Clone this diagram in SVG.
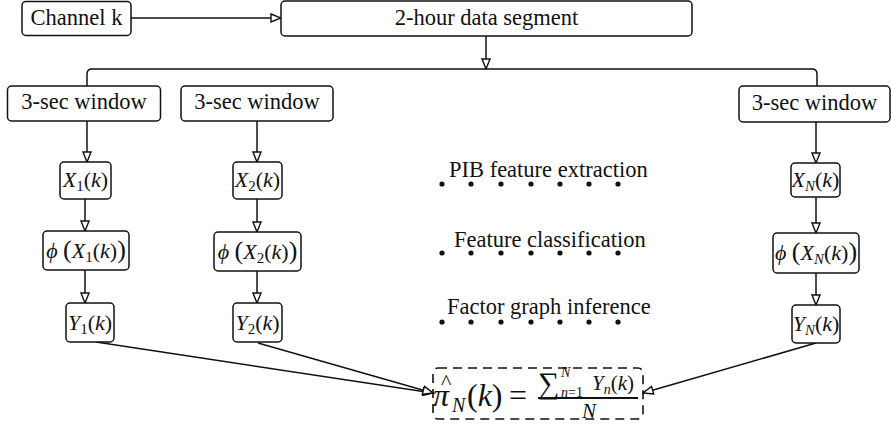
<svg xmlns="http://www.w3.org/2000/svg" width="891" height="426" viewBox="0 0 891 426">
<style>
.box{fill:#fff;stroke:#111;stroke-width:1.5}
.dash{fill:none;stroke:#111;stroke-width:1.6;stroke-dasharray:9,6}
.t{font-family:"Liberation Serif","Times New Roman",serif;font-size:22.5px;fill:#111}
.m{font-family:"Liberation Serif","Times New Roman",serif;fill:#111}
.i{font-style:italic}
.c{fill:none;stroke:#111;stroke-width:1.5}
.dot{fill:#111}
</style>
<defs>
<marker id="ah" markerUnits="userSpaceOnUse" markerWidth="12" markerHeight="10" refX="11" refY="5" orient="auto">
<path d="M1,1 L11,5 L1,9 Z" fill="#fff" stroke="#111" stroke-width="1.4"/>
</marker>
</defs>

<g id="connectors">
<path class="c" d="M131,18 H281" marker-end="url(#ah)"/>
<path class="c" d="M486,36 V69" marker-end="url(#ah)"/>
<path class="c" d="M87,86 V74 Q87,69 92,69 H812 Q817,69 817,74 V86"/>
<path class="c" d="M87,121 V162" marker-end="url(#ah)"/>
<path class="c" d="M85,199 V231" marker-end="url(#ah)"/>
<path class="c" d="M85,270 V303" marker-end="url(#ah)"/>
<path class="c" d="M257,121 V162" marker-end="url(#ah)"/>
<path class="c" d="M257,199 V232" marker-end="url(#ah)"/>
<path class="c" d="M257,271 V303" marker-end="url(#ah)"/>
<path class="c" d="M816,122 V163" marker-end="url(#ah)"/>
<path class="c" d="M816,197 V233" marker-end="url(#ah)"/>
<path class="c" d="M816,273 V305" marker-end="url(#ah)"/>
<path class="c" d="M96,342 L433,393" marker-end="url(#ah)"/>
<path class="c" d="M258,343 L433,393" marker-end="url(#ah)"/>
<path class="c" d="M816,343 L643,393" marker-end="url(#ah)"/>
</g>

<g id="channel">
<rect class="box" x="22" y="1.5" width="109" height="34" rx="4"/>
<text class="t" x="76.5" y="25" text-anchor="middle">Channel k</text>
</g>
<g id="segment">
<rect class="box" x="281" y="1" width="411" height="35" rx="4"/>
<text class="t" x="486.5" y="25" text-anchor="middle">2-hour data segment</text>
</g>

<g id="window1">
<rect class="box" x="7.5" y="86" width="153" height="35" rx="4"/>
<text class="t" x="84" y="109" text-anchor="middle">3-sec window</text>
</g>
<g id="window2">
<rect class="box" x="181" y="86" width="152" height="35" rx="4"/>
<text class="t" x="257" y="109" text-anchor="middle">3-sec window</text>
</g>
<g id="windowN">
<rect class="box" x="739" y="86" width="151" height="36" rx="4"/>
<text class="t" x="814.5" y="110" text-anchor="middle">3-sec window</text>
</g>

<g id="x1">
<rect class="box" x="60" y="162" width="51" height="37" rx="4"/>
<text class="m" font-size="22" x="85.5" y="187" text-anchor="middle"><tspan class="i">X</tspan><tspan font-size="15" dy="4">1</tspan><tspan dy="-4">(</tspan><tspan class="i">k</tspan>)</text>
</g>
<g id="phi1">
<rect class="box" x="43" y="231" width="86" height="39" rx="4"/>
<text class="m" font-size="22" x="86" y="258" text-anchor="middle"><tspan class="i">ϕ</tspan> <tspan font-size="26">(</tspan><tspan class="i">X</tspan><tspan font-size="15" dy="4">1</tspan><tspan dy="-4">(</tspan><tspan class="i">k</tspan>)<tspan font-size="26">)</tspan></text>
</g>
<g id="y1">
<rect class="box" x="66" y="303" width="48" height="39" rx="4"/>
<text class="m" font-size="22" x="90" y="330" text-anchor="middle"><tspan class="i">Y</tspan><tspan font-size="15" dy="4">1</tspan><tspan dy="-4">(</tspan><tspan class="i">k</tspan>)</text>
</g>

<g id="x2">
<rect class="box" x="233" y="162" width="49" height="37" rx="4"/>
<text class="m" font-size="22" x="257.5" y="187" text-anchor="middle"><tspan class="i">X</tspan><tspan font-size="15" dy="4">2</tspan><tspan dy="-4">(</tspan><tspan class="i">k</tspan>)</text>
</g>
<g id="phi2">
<rect class="box" x="214" y="232" width="87" height="39" rx="4"/>
<text class="m" font-size="22" x="257.5" y="259" text-anchor="middle"><tspan class="i">ϕ</tspan> <tspan font-size="26">(</tspan><tspan class="i">X</tspan><tspan font-size="15" dy="4">2</tspan><tspan dy="-4">(</tspan><tspan class="i">k</tspan>)<tspan font-size="26">)</tspan></text>
</g>
<g id="y2">
<rect class="box" x="233" y="303" width="49" height="39" rx="4"/>
<text class="m" font-size="22" x="257.5" y="330" text-anchor="middle"><tspan class="i">Y</tspan><tspan font-size="15" dy="4">2</tspan><tspan dy="-4">(</tspan><tspan class="i">k</tspan>)</text>
</g>

<g id="xN">
<rect class="box" x="791" y="163" width="49" height="34" rx="4"/>
<text class="m" font-size="22" x="815.5" y="187" text-anchor="middle"><tspan class="i">X</tspan><tspan class="i" font-size="15" dy="4">N</tspan><tspan dy="-4">(</tspan><tspan class="i">k</tspan>)</text>
</g>
<g id="phiN">
<rect class="box" x="773" y="233" width="86" height="40" rx="4"/>
<text class="m" font-size="22" x="816" y="260" text-anchor="middle"><tspan class="i">ϕ</tspan> <tspan font-size="26">(</tspan><tspan class="i">X</tspan><tspan class="i" font-size="15" dy="4">N</tspan><tspan dy="-4">(</tspan><tspan class="i">k</tspan>)<tspan font-size="26">)</tspan></text>
</g>
<g id="yN">
<rect class="box" x="792" y="305" width="48" height="38" rx="4"/>
<text class="m" font-size="22" x="816" y="331" text-anchor="middle"><tspan class="i">Y</tspan><tspan class="i" font-size="15" dy="4">N</tspan><tspan dy="-4">(</tspan><tspan class="i">k</tspan>)</text>
</g>

<g id="labels">
<text class="t" x="449" y="177">PIB feature extraction</text>
<text class="t" x="454" y="247">Feature classification</text>
<text class="t" x="447" y="314">Factor graph inference</text>
<g class="dot">
<circle cx="442" cy="184" r="2.6"/><circle cx="471" cy="184" r="2.6"/><circle cx="501" cy="184" r="2.6"/><circle cx="531" cy="184" r="2.6"/><circle cx="560" cy="184" r="2.6"/><circle cx="589" cy="184" r="2.6"/><circle cx="618" cy="184" r="2.6"/>
<circle cx="442" cy="253" r="2.6"/><circle cx="471" cy="253" r="2.6"/><circle cx="501" cy="253" r="2.6"/><circle cx="531" cy="253" r="2.6"/><circle cx="560" cy="253" r="2.6"/><circle cx="589" cy="253" r="2.6"/><circle cx="618" cy="253" r="2.6"/>
<circle cx="442" cy="322" r="2.6"/><circle cx="471" cy="322" r="2.6"/><circle cx="501" cy="322" r="2.6"/><circle cx="531" cy="322" r="2.6"/><circle cx="560" cy="322" r="2.6"/><circle cx="589" cy="322" r="2.6"/><circle cx="618" cy="322" r="2.6"/>
</g>
</g>

<g id="estimate">
<rect class="dash" x="433" y="368" width="210" height="51" rx="5"/>
<text class="m i" x="433" y="406" font-size="32">π</text>
<text class="m" x="441" y="389" font-size="22">^</text>
<text class="m i" x="452" y="412" font-size="20">N</text>
<text class="m" x="467" y="406" font-size="32">(<tspan class="i">k</tspan>)</text>
<text class="m" x="509" y="406" font-size="32">=</text>
<text class="m" x="538" y="393" font-size="30">∑</text>
<text class="m i" x="561" y="377" font-size="14">N</text>
<text class="m" x="561" y="397" font-size="14"><tspan class="i">n</tspan>=1</text>
<text class="m" x="592" y="390" font-size="21"><tspan class="i">Y</tspan><tspan class="i" font-size="14" dy="4">n</tspan><tspan dy="-4">(</tspan><tspan class="i">k</tspan>)</text>
<line x1="538" y1="398" x2="638" y2="398" stroke="#111" stroke-width="2"/>
<text class="m i" x="582" y="418" font-size="21">N</text>
</g>
</svg>
